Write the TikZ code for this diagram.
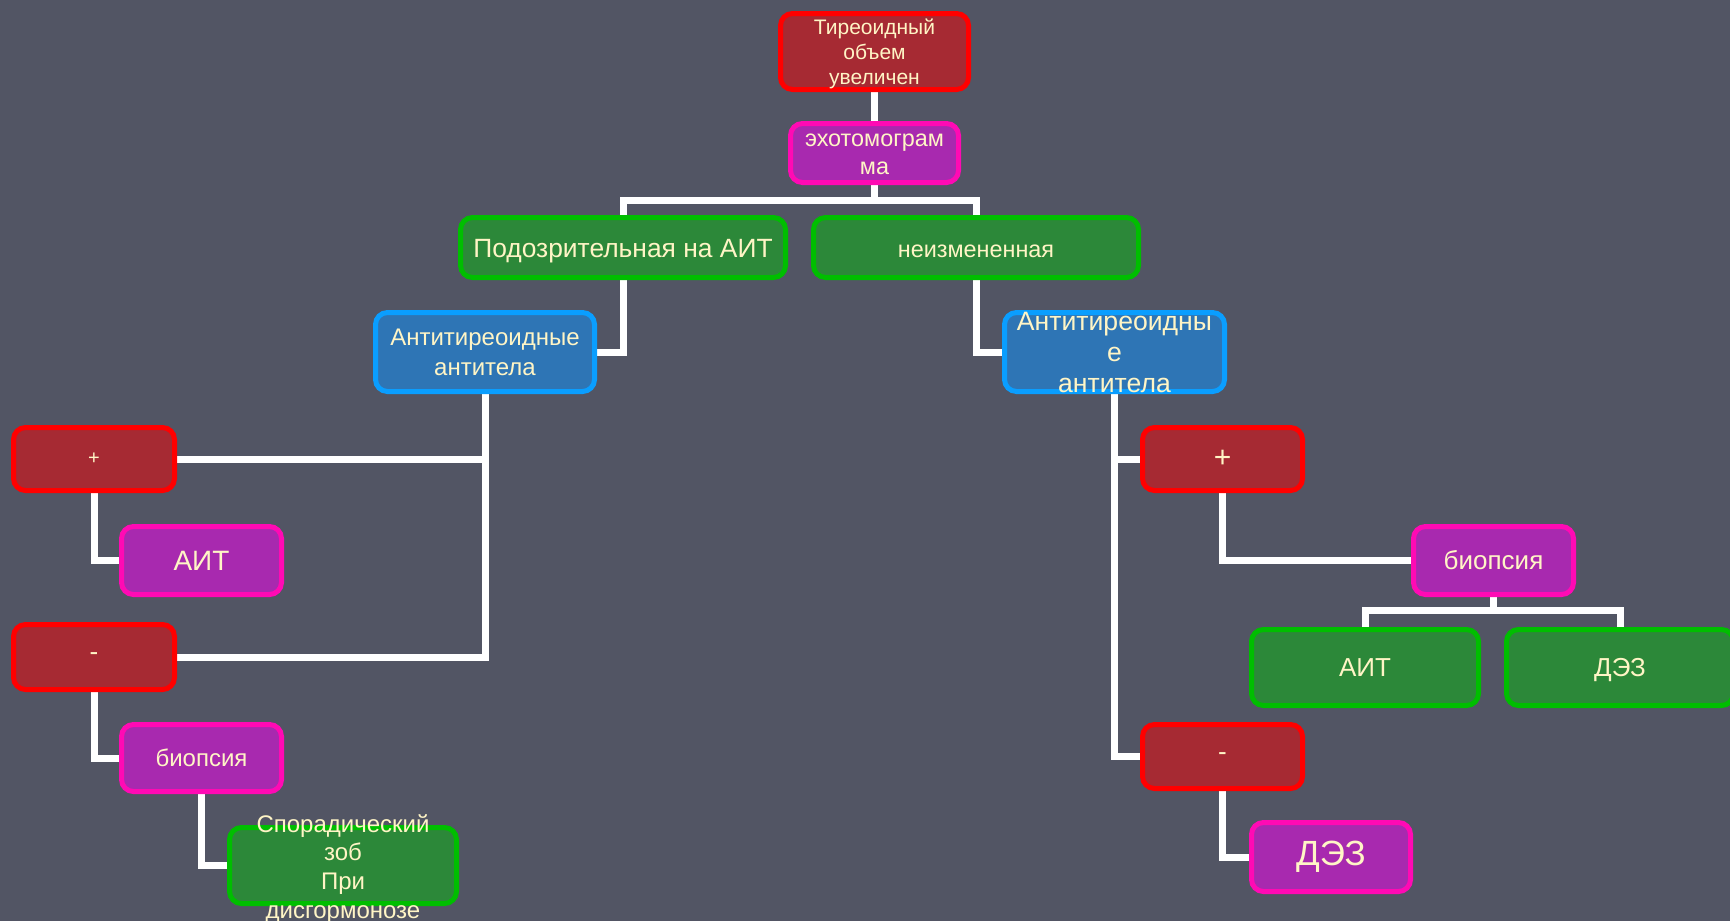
\documentclass[tikz,border=0pt]{standalone}
\usepackage{fontspec}
\setmainfont{Liberation Sans}
\pgfdeclarelayer{bg}
\pgfsetlayers{bg,main}
\definecolor{bgc}{HTML}{525564}
\definecolor{txt}{HTML}{FFF5C6}
\definecolor{redfill}{HTML}{A62A33}
\definecolor{redline}{HTML}{FF0000}
\definecolor{magfill}{HTML}{A829AF}
\definecolor{magline}{HTML}{FF0AB4}
\definecolor{grnfill}{HTML}{2C8839}
\definecolor{grnline}{HTML}{00BE00}
\definecolor{blufill}{HTML}{2E75B5}
\definecolor{bluline}{HTML}{0A9EFF}
\tikzset{
  box/.style={rounded corners=6pt, line width=2.5pt, inner sep=0pt, align=center, text=txt},
  redbox/.style={box, draw=redline, fill=redfill},
  magbox/.style={box, draw=magline, fill=magfill},
  grnbox/.style={box, draw=grnline, fill=grnfill},
  blubox/.style={box, draw=bluline, fill=blufill},
  conn/.style={draw=white, line width=3.5pt},
}
\newcommand{\fs}[2]{\fontsize{#1}{#2}\selectfont}
\newcommand{\dn}[2]{\raisebox{-#1}[\height][\depth]{#2}}
\begin{document}
\begin{tikzpicture}[x=0.5pt, y=-0.5pt]
\useasboundingbox (0,0) rectangle (1730,921);
\begin{pgfonlayer}{bg}
\fill[bgc] (0,0) rectangle (1730,921);
\end{pgfonlayer}

\node[redbox, minimum width=94pt, minimum height=38pt, font=\fs{10.5}{12.5}] (top) at (874.5,51.5) {\dn{1.5pt}{\begin{tabular}{@{}c@{}}Тиреоидный\\объем\\увеличен\end{tabular}}};
\node[magbox, minimum width=84pt, minimum height=29.5pt, font=\fs{11.7}{14}] (echo) at (874.5,153) {\dn{1pt}{\begin{tabular}{@{}c@{}}эхотомограм\\ма\end{tabular}}};
\node[grnbox, minimum width=162.5pt, minimum height=30pt, font=\fs{13.2}{15}] (susp) at (623,247.5) {\dn{2pt}{Подозрительная на АИТ}};
\node[grnbox, minimum width=162.5pt, minimum height=30pt, font=\fs{11.7}{14}] (unch) at (976,247.5) {\dn{2pt}{неизмененная}};
\node[blubox, minimum width=109.5pt, minimum height=39.5pt, font=\fs{12}{15}] (antiL) at (485,352) {Антитиреоидные\\антитела};
\node[blubox, minimum width=110pt, minimum height=39.5pt, font=\fs{13.3}{15.5}] (antiR) at (1114.5,352) {\smash{\raisebox{-5pt}{\begin{tabular}{@{}c@{}}Антитиреоидны\\е\\антитела\end{tabular}}}};

\node[redbox, minimum width=80.5pt, minimum height=31.5pt, font=\fs{10}{12}] (plusL) at (94,459) {+};
\node[magbox, minimum width=80pt, minimum height=34pt, font=\fs{14}{16}] (aitL) at (201.5,560.5) {АИТ};
\node[redbox, minimum width=80.5pt, minimum height=32.5pt, font=\fs{13}{15}] (minusL) at (94,657) {-};
\node[magbox, minimum width=80pt, minimum height=33.5pt, font=\fs{12}{14}] (biopL) at (201.5,758) {биопсия};
\node[grnbox, minimum width=113.5pt, minimum height=38pt, font=\fs{12}{14.3}] (spor) at (343,865.5) {\smash{\raisebox{-5pt}{\begin{tabular}{@{}c@{}}Спорадический\\зоб\\При\\дисгормонозе\end{tabular}}}};

\node[redbox, minimum width=80pt, minimum height=31.5pt, font=\fs{15}{17}] (plusR) at (1222.5,459) {+};
\node[redbox, minimum width=80pt, minimum height=32pt, font=\fs{13}{15}] (minusR) at (1222.5,756.5) {-};
\node[magbox, minimum width=80pt, minimum height=34pt, font=\fs{13}{15}] (biopR) at (1493.5,560.5) {биопсия};
\node[grnbox, minimum width=113.5pt, minimum height=38pt, font=\fs{13}{15}] (aitR) at (1365,667.5) {АИТ};
\node[grnbox, minimum width=113.5pt, minimum height=38pt, font=\fs{13}{15}] (dezR) at (1620,667.5) {\dn{1.5pt}{ДЭЗ}};
\node[magbox, minimum width=79.5pt, minimum height=34.5pt, font=\fs{17.5}{20}] (dezM) at (1331,857) {ДЭЗ};

\coordinate (b1) at (874.5,200);
\coordinate (b2) at (1493.5,610);
\begin{pgfonlayer}{bg}
\draw[conn] (top.south) -- (echo.north);
\draw[conn] (echo.south) -- (b1);
\draw[conn] (susp.north) |- (b1) -| (unch.north);
\draw[conn] (susp.south) |- (antiL.east);
\draw[conn] (unch.south) |- (antiR.west);
\draw[conn] (antiL.south) |- (plusL.east);
\draw[conn] (antiL.south) |- (minusL.east);
\draw[conn] (plusL.south) |- (aitL.west);
\draw[conn] (minusL.south) |- (biopL.west);
\draw[conn] (biopL.south) |- (spor.west);
\draw[conn] (antiR.south) |- (plusR.west);
\draw[conn] (antiR.south) |- (minusR.west);
\draw[conn] (plusR.south) |- (biopR.west);
\draw[conn] (biopR.south) -- (b2);
\draw[conn] (aitR.north) |- (b2) -| (dezR.north);
\draw[conn] (minusR.south) |- (dezM.west);
\end{pgfonlayer}
\end{tikzpicture}
\end{document}
